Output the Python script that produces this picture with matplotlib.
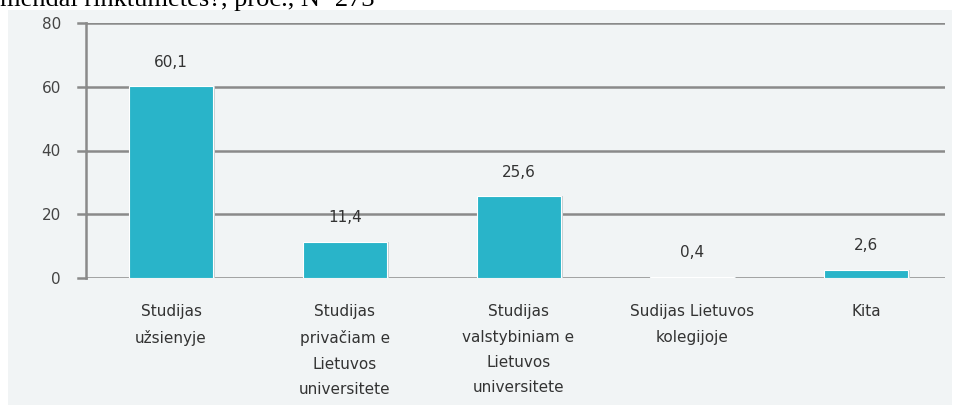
import matplotlib.pyplot as plt
import numpy as np

plt.rcParams['font.family'] = ['DejaVu Sans']

categories = ['Studijas\nužsienyje',
              'Studijas\nprivačiam e\nLietuvos\nuniversitete',
              'Studijas\nvalstybiniam e\nLietuvos\nuniversitete',
              'Sudijas Lietuvos\nkolegijoje',
              'Kita']
values = [60.1, 11.4, 25.6, 0.4, 2.6]
value_labels = ['60,1', '11,4', '25,6', '0,4', '2,6']
yticks = [0, 20, 40, 60, 80]

W, H = 958, 405
fig = plt.figure(figsize=(W / 100, H / 100), dpi=100)
fig.set_facecolor('white')

# light grey panel behind the chart
panel = fig.add_axes([8 / W, 0, 1 - 8 / W - 6 / W, 1 - 10 / H])
panel.set_facecolor('#f1f4f5')
panel.set_xticks([])
panel.set_yticks([])
for s in panel.spines.values():
    s.set_visible(False)

# cut-off title line from the page above
fig.text(0.0, 1 - 6 / H, 'mendai rinktumėtės?, proc., N=273',
         family='Liberation Serif', fontsize=19, color='black',
         ha='left', va='baseline')

left, right = 86, 945
top, bottom = 23, 278
ax = fig.add_axes([left / W, 1 - bottom / H, (right - left) / W, (bottom - top) / H])
ax.set_facecolor('none')

x = np.arange(len(values))
xmin = -(171 - left) / 173.75
xmax = xmin + (right - left) / 173.75
ax.set_xlim(xmin, xmax)
ax.set_ylim(0, 80)

bar_w = 84 / 173.75
# soft shadow to the right of the bars
ax.bar(x + 0.012, values, width=bar_w, color='#c9cfd2', zorder=2)
ax.bar(x, values, width=bar_w, color='#29b4c9', edgecolor='white',
       linewidth=0.8, zorder=3)

for xi, v, lab in zip(x, values, value_labels):
    ax.annotate(lab, (xi, v), xytext=(0, 12), textcoords='offset points',
                ha='center', va='bottom', fontsize=11, color='#333333')

ax.set_yticks(yticks)
ax.set_yticklabels([str(t) for t in yticks], fontsize=11, color='#444444')
ax.yaxis.grid(True, color='#8a8a8a', linewidth=1.8, zorder=1)
ax.set_axisbelow(True)
ax.tick_params(axis='y', length=0, pad=18)

ax.set_xticks(x)
ax.set_xticklabels(categories, fontsize=11, color='#333333', linespacing=1.85)
ax.tick_params(axis='x', length=0, pad=19)

for s in ['top', 'right', 'bottom']:
    ax.spines[s].set_visible(False)
ax.spines['left'].set_color('#8a8a8a')
ax.spines['left'].set_linewidth(1.8)

# gridlines reach a little left of the axis line
for t in yticks:
    ax.plot([xmin - 8 / 173.75, xmin], [t, t], color='#8a8a8a', linewidth=1.8,
            clip_on=False, zorder=1)

fig.savefig('out.png', dpi=100, facecolor=fig.get_facecolor())
